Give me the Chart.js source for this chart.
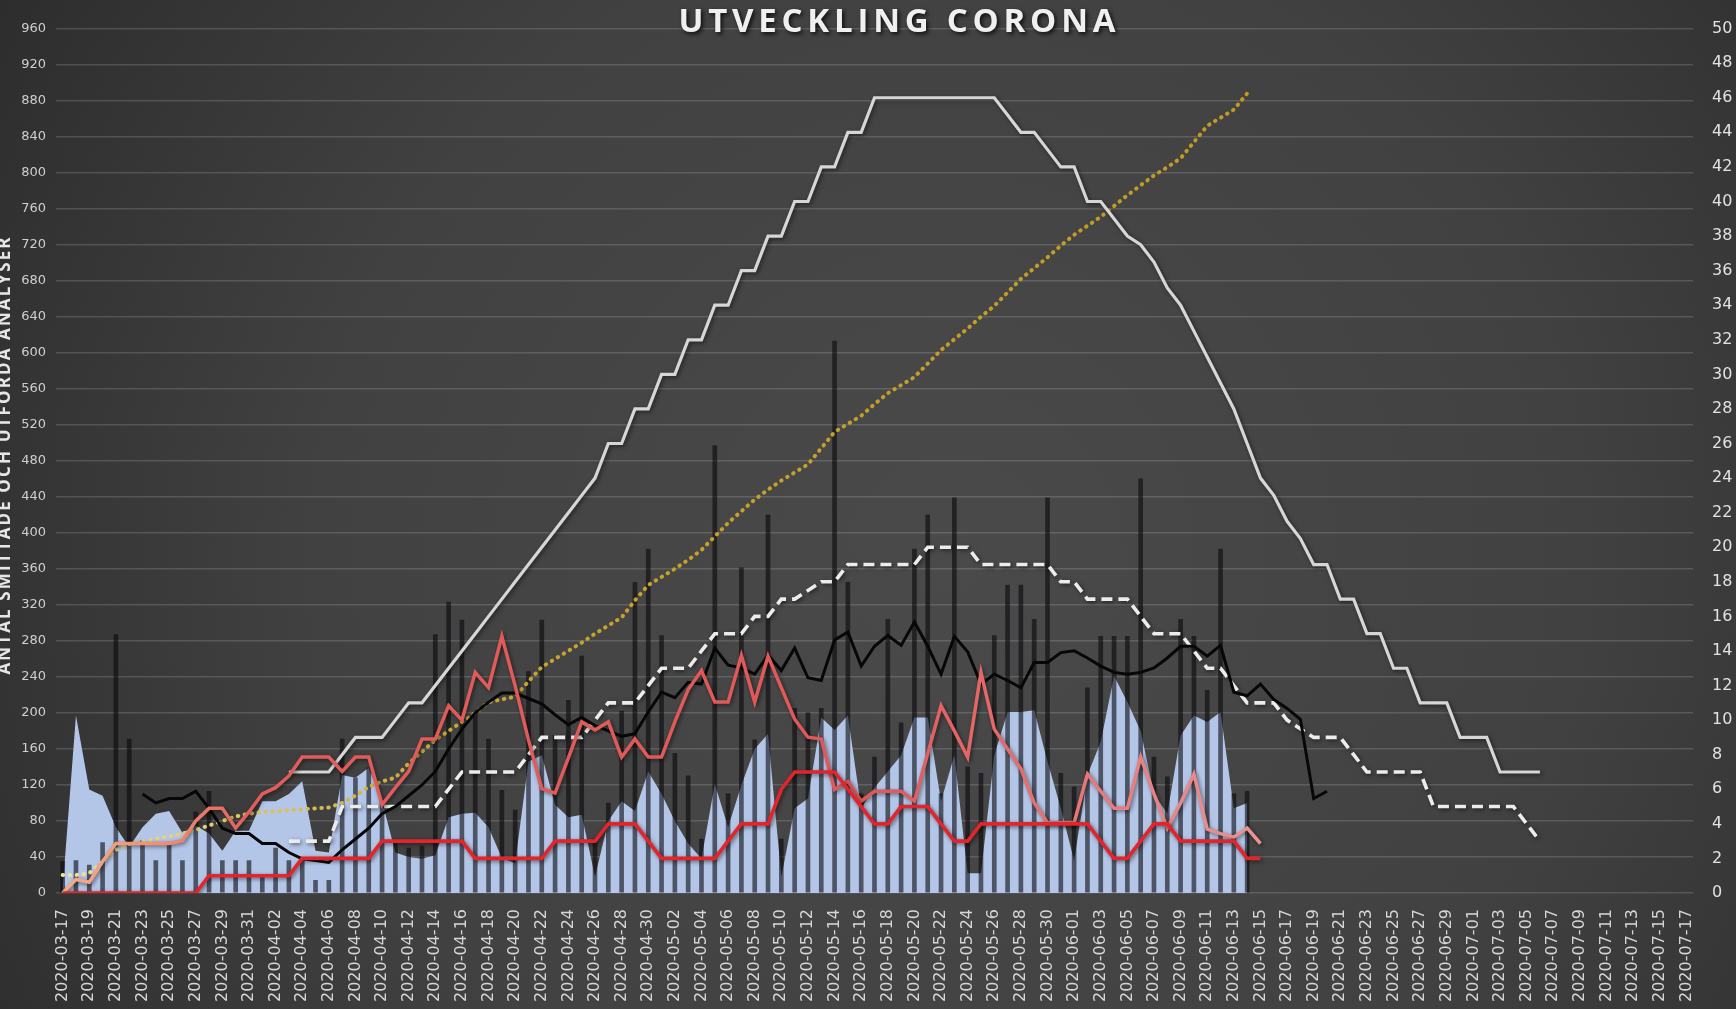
<!DOCTYPE html>
<html>
<head>
<meta charset="utf-8">
<script src="https://cdn.jsdelivr.net/npm/chart.js@4.4.0/dist/chart.umd.min.js"></script>
<style>
html,body{margin:0;padding:0;background:#333;overflow:hidden}
canvas{display:block}
</style>
</head>
<body>
<canvas id="c" width="1736" height="1009"></canvas>
<script>
// ---------- DATA ----------
const chartTitle = 'UTVECKLING CORONA';
const leftAxisTitle = 'ANTAL SMITTADE OCH UTFÖRDA ANALYSER';

const labels = [
'2020-03-17','2020-03-18','2020-03-19','2020-03-20','2020-03-21','2020-03-22','2020-03-23','2020-03-24','2020-03-25','2020-03-26','2020-03-27','2020-03-28','2020-03-29','2020-03-30','2020-03-31',
'2020-04-01','2020-04-02','2020-04-03','2020-04-04','2020-04-05','2020-04-06','2020-04-07','2020-04-08','2020-04-09','2020-04-10','2020-04-11','2020-04-12','2020-04-13','2020-04-14','2020-04-15',
'2020-04-16','2020-04-17','2020-04-18','2020-04-19','2020-04-20','2020-04-21','2020-04-22','2020-04-23','2020-04-24','2020-04-25','2020-04-26','2020-04-27','2020-04-28','2020-04-29','2020-04-30',
'2020-05-01','2020-05-02','2020-05-03','2020-05-04','2020-05-05','2020-05-06','2020-05-07','2020-05-08','2020-05-09','2020-05-10','2020-05-11','2020-05-12','2020-05-13','2020-05-14','2020-05-15',
'2020-05-16','2020-05-17','2020-05-18','2020-05-19','2020-05-20','2020-05-21','2020-05-22','2020-05-23','2020-05-24','2020-05-25','2020-05-26','2020-05-27','2020-05-28','2020-05-29','2020-05-30','2020-05-31',
'2020-06-01','2020-06-02','2020-06-03','2020-06-04','2020-06-05','2020-06-06','2020-06-07','2020-06-08','2020-06-09','2020-06-10','2020-06-11','2020-06-12','2020-06-13','2020-06-14','2020-06-15',
'2020-06-16','2020-06-17','2020-06-18','2020-06-19','2020-06-20','2020-06-21','2020-06-22','2020-06-23','2020-06-24','2020-06-25','2020-06-26','2020-06-27','2020-06-28','2020-06-29','2020-06-30',
'2020-07-01','2020-07-02','2020-07-03','2020-07-04','2020-07-05','2020-07-06','2020-07-07','2020-07-08','2020-07-09','2020-07-10','2020-07-11','2020-07-12','2020-07-13','2020-07-14','2020-07-15','2020-07-16','2020-07-17'
];

const leftTicks = {min: 0, max: 960, step: 40};
const rightTicks = {min: 0, max: 50, step: 2};

// light blue area (left axis), from 2020-03-17
const smittadeStart = 0;
const smittade = [5,197,115,108,73,51,73,88,91,67, 75,66,47,69,69,102,102,110,124,47,
  45,131,128,139,102,45,40,38,42,84, 88,89,73,39,33,146,153,98,84,87,
  18,80,102,91,135,110,80,55,38,121, 73,120,160,177,18,94,105,195,181,197,
  94,117,135,153,195,195,102,153,22,22, 153,201,201,203,146,94,36,131,168,241,
  212,180,110,88,175,197,190,201,94,100];

// dark thin bars (left axis), from 2020-03-17
const analyserStart = 0;
const analyser = [35,36,31,56,287,171,58,36,55,36, 90,113,36,36,36,20,50,36,36,14,
  14,171,128,139,102,55,50,52,287,323, 303,200,171,114,92,246,303,175,214,263,
  60,100,202,345,382,286,155,130,60,497, 110,361,170,420,60,205,200,205,613,345,
  110,151,304,189,382,420,110,439,140,133, 286,342,342,304,439,133,118,228,285,285,
  285,460,151,129,304,285,225,382,110,113];

// gold dotted line (left axis), from 2020-03-17
const goldStart = 0;
const gold = [20,20,22,35,48,54,57,60,63,66, 70,75,80,85,88,90,91,92,93,94,
  95,100,108,118,124,128,144,157,170,180, 190,200,212,215,218,235,251,260,269,278,
  288,297,306,325,342,351,360,370,381,396, 411,424,437,448,458,467,476,494,512,521,
  530,543,555,564,573,588,603,615,627,640, 652,667,682,694,706,719,731,741,751,763,
  775,786,797,806,816,834,852,861,870,888];

// pink line (left axis), from 2020-03-17
const pinkStart = 0;
const pink = [0,15,12,35,55,55,55,55,55,58, 80,94,94,72,90,110,117,130,151,151,
  151,135,151,151,98,117,135,171,171,208, 192,245,228,285,230,170,116,111,150,190,
  181,190,151,171,151,151,190,226,247,212, 212,264,212,263,228,193,173,171,115,124,
  102,113,113,113,102,155,208,180,151,245, 182,160,138,100,78,78,78,132,113,94,
  94,151,110,72,100,132,71,66,62,72, 55];

// black line (left axis), from 2020-03-23
const blackStart = 6;
const black = [110,100,105,105,113,94,72,66,66,55, 55,45,38,36,34,48,60,72,88,96,
  108,120,135,160,182,200,212,222,222,216, 210,198,187,195,186,180,174,177,201,223,
  217,234,232,272,253,250,243,264,247,272, 239,236,281,290,252,274,286,275,301,274,
  243,285,268,232,243,236,228,256,256,267, 269,261,252,245,243,245,250,261,274,274,
  263,275,223,219,232,215,205,193,105,113];

// red line (right axis), from 2020-03-17
const redStart = 0;
const red = [0,0,0,0,0,0,0,0,0,0,0, 1,1,1,1,1,1,1, 2,2,2,2,2,2, 3,3,3,3,3,3,3, 2,2,2,2,2,2,
  3,3,3,3, 4,4,4, 3, 2,2,2,2,2, 3, 4,4,4, 6, 7,7,7,7, 6, 5, 4,4, 5,5,5, 4, 3,3,
  4,4,4,4,4,4,4,4,4, 3, 2,2, 3, 4,4, 3,3,3,3,3, 2,2];

// white solid line (right axis), from 2020-04-03
const whiteStart = 17;
const white = [7,7,7,7,8,9,9,9,10,11, 11,12,13,14,15,16,17,18,19,20,
  21,22,23,24,26,26,28,28,30,30, 32,32,34,34,36,36,38,38,40,40,
  42,42,44,44,46,46,46,46,46,46, 46,46,46,46,45,44,44,43,42,42,
  40,40,39,38,37.5,36.5,35,34,32.5,31, 29.5,28,26,24,23,21.5,20.5,19,19,17,
  17,15,15,13,13,11,11,11,9,9, 9,7,7,7,7];

// white dashed line (right axis), from 2020-04-03
const dashedStart = 17;
const dashed = [3,3,3,3,5,5,5,5,5,5, 5,5,6,7,7,7,7,7,8,9,
  9,9,9,10,11,11,11,12,13,13, 13,14,15,15,15,16,16,17,17,17.5,
  18,18,19,19,19,19,19,19,20,20, 20,20,19,19,19,19,19,19,18,18,
  17,17,17,17,16,15,15,15,14,13, 13,12,11,11,11,10,9.5,9,9,9,
  8,7,7,7,7,7,5,5,5,5, 5,5,5,4,3];

// ---------- BUILD ----------
const N = labels.length;
function place(start, vals) {
  const a = new Array(N).fill(null);
  vals.forEach((v, k) => { a[start + k] = v; });
  return a;
}

function hGradient(stops, fallback) {
  return (ctx) => {
    const ch = ctx.chart, a = ch.chartArea;
    if (!a) return fallback;
    const g = ch.ctx.createLinearGradient(a.left, 0, a.right, 0);
    stops.forEach(s => g.addColorStop(s[0], s[1]));
    return g;
  };
}

const bgPlugin = {
  id: 'bg',
  beforeDraw(chart) {
    const c = chart.ctx, w = chart.width, h = chart.height;
    c.save();
    const g = c.createRadialGradient(950, 560, 0, 950, 560, 1150);
    g.addColorStop(0, '#4a4a4a');
    g.addColorStop(0.55, '#414141');
    g.addColorStop(1, '#2b2b2b');
    c.fillStyle = g;
    c.fillRect(0, 0, w, h);
    c.restore();
  }
};

const shadowPlugin = {
  id: 'shadow',
  beforeDatasetDraw(chart, args) {
    const ds = chart.data.datasets[args.index];
    if (!ds.shadow) return;
    const c = chart.ctx;
    c.save();
    c.shadowColor = ds.shadow.color;
    c.shadowBlur = ds.shadow.blur;
    c.shadowOffsetX = ds.shadow.x;
    c.shadowOffsetY = ds.shadow.y;
  },
  afterDatasetDraw(chart, args) {
    const ds = chart.data.datasets[args.index];
    if (!ds.shadow) return;
    chart.ctx.restore();
  }
};

function drawSpaced(c, text, cx, cy, targetWidth) {
  // letter-spaced text fitted to a target width, centred on cx
  const chars = Array.from(text);
  const widths = chars.map(ch => c.measureText(ch).width);
  const raw = widths.reduce((a, b) => a + b, 0);
  const gap = (targetWidth - raw) / (chars.length - 1);
  let x = cx - targetWidth / 2;
  c.textAlign = 'left';
  chars.forEach((ch, k) => { c.fillText(ch, x, cy); x += widths[k] + gap; });
}

const textPlugin = {
  id: 'texts',
  afterDraw(chart) {
    const c = chart.ctx;
    const fam = '"Open Sans", "DejaVu Sans", sans-serif';
    // title
    c.save();
    c.font = 'bold 33px ' + fam;
    c.textBaseline = 'middle';
    c.shadowColor = 'rgba(0,0,0,0.8)';
    c.shadowBlur = 4;
    c.shadowOffsetX = 2;
    c.shadowOffsetY = 2;
    c.fillStyle = '#f0f0f0';
    drawSpaced(c, chartTitle, 897, 23, 437);
    c.restore();
    // left axis title (partly cut by the left edge)
    c.save();
    c.font = 'bold 17px ' + fam;
    c.translate(5, 456);
    c.rotate(-Math.PI / 2);
    c.textBaseline = 'middle';
    c.fillStyle = '#e6e6e6';
    drawSpaced(c, leftAxisTitle, 0, 0, 437);
    c.restore();
  }
};

const lineShadow = {color: 'rgba(0,0,0,0.55)', blur: 4, x: 1.5, y: 1.5};

const datasets = [
  {
    type: 'line', label: 'Smittade', data: place(smittadeStart, smittade), yAxisID: 'y',
    fill: 'origin', backgroundColor: '#b4c6e8', borderWidth: 0, pointRadius: 0, tension: 0,
    order: 20, shadow: {color: 'rgba(0,0,0,0.75)', blur: 7, x: 0, y: -2}
  },
  {
    type: 'bar', label: 'Analyser', data: place(analyserStart, analyser), yAxisID: 'y',
    backgroundColor: 'rgba(8,8,14,0.6)', barThickness: 4, borderWidth: 0, order: 15
  },
  {
    type: 'line', label: 'Gold', data: place(goldStart, gold), yAxisID: 'y',
    borderColor: hGradient([[0, '#efe69a'], [0.12, '#ddc460'], [0.25, '#c7a52e'], [1, '#bb951c']], '#c9a227'),
    borderWidth: 4, borderDash: [0.5, 6.5], borderCapStyle: 'round', pointRadius: 0, tension: 0, fill: false, order: 8
  },
  {
    type: 'line', label: 'White', data: place(whiteStart, white), yAxisID: 'y1',
    borderColor: '#d6d6d6', borderWidth: 3.2, pointRadius: 0, tension: 0, fill: false, order: 7, shadow: lineShadow
  },
  {
    type: 'line', label: 'Dashed', data: place(dashedStart, dashed), yAxisID: 'y1',
    borderColor: '#ececec', borderWidth: 3.6, borderDash: [11, 6], pointRadius: 0, tension: 0, fill: false, order: 6, shadow: lineShadow
  },
  {
    type: 'line', label: 'Black', data: place(blackStart, black), yAxisID: 'y',
    borderColor: '#070707', borderWidth: 3, pointRadius: 0, tension: 0, fill: false, order: 5
  },
  {
    type: 'line', label: 'Pink', data: place(pinkStart, pink), yAxisID: 'y',
    borderColor: hGradient([[0, '#f6ad8a'], [0.07, '#f08a70'], [0.12, '#e25c5c'], [0.5, '#e05858'], [0.6, '#e67070'], [0.74, '#ec9494']], '#e06060'),
    borderWidth: 3.5, pointRadius: 0, tension: 0, fill: false, order: 4, shadow: lineShadow
  },
  {
    type: 'line', label: 'Red', data: place(redStart, red), yAxisID: 'y1',
    borderColor: '#e3242b', borderWidth: 3.6, pointRadius: 0, tension: 0, fill: false, order: 3, shadow: lineShadow
  }
];

new Chart(document.getElementById('c'), {
  data: {labels: labels, datasets: datasets},
  options: {
    responsive: false,
    devicePixelRatio: 1,
    animation: false,
    layout: {padding: {top: 17, left: 0, right: 0, bottom: 0}},
    plugins: {legend: {display: false}, tooltip: {enabled: false}, title: {display: false}},
    scales: {
      x: {
        offset: true,
        grid: {display: false, drawTicks: false},
        border: {display: false},
        ticks: {
          autoSkip: false, maxRotation: 90, minRotation: 90, padding: 16,
          color: '#d6d6d6', font: {family: '"DejaVu Sans", sans-serif', size: 16},
          callback: function (v, i) { return i % 2 === 0 ? this.getLabelForValue(v) : ''; }
        },
        afterFit: (s) => { s.height = 116; }
      },
      y: {
        position: 'left', min: leftTicks.min, max: leftTicks.max,
        grid: {color: 'rgba(255,255,255,0.15)', lineWidth: 1.5, drawTicks: false},
        border: {display: false},
        ticks: {stepSize: leftTicks.step, padding: 10, color: '#cfcfcf', font: {family: '"DejaVu Sans", sans-serif', size: 13}},
        afterFit: (s) => { s.width = 56; }
      },
      y1: {
        position: 'right', min: rightTicks.min, max: rightTicks.max,
        grid: {drawOnChartArea: false, drawTicks: false},
        border: {display: false},
        ticks: {stepSize: rightTicks.step, padding: 19, color: '#e2e2e2', font: {family: '"DejaVu Sans", sans-serif', size: 16}},
        afterFit: (s) => { s.width = 43; }
      }
    }
  },
  plugins: [bgPlugin, shadowPlugin, textPlugin]
});
</script>
</body>
</html>
